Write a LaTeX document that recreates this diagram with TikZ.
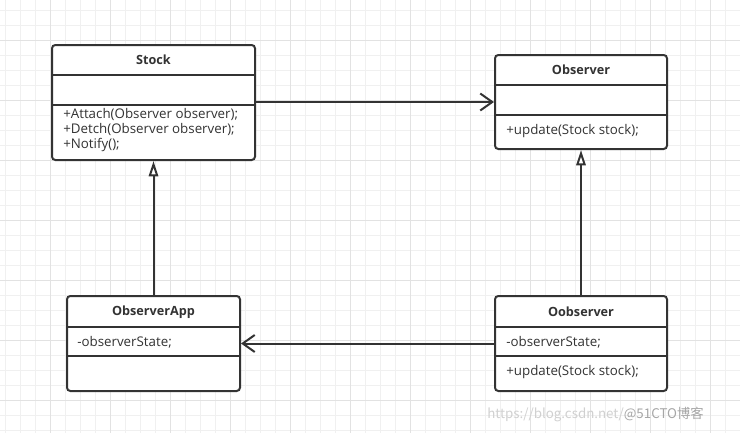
\documentclass[tikz,border=0pt]{standalone}
\usepackage{fontspec}
\setmainfont{Open Sans}
\newfontfamily\cjkfont{Noto Sans CJK SC}
\usetikzlibrary{arrows.meta}
\definecolor{ink}{HTML}{333333}
\definecolor{gridminor}{HTML}{F0F0F0}
\definecolor{gridmajor}{HTML}{E2E2E2}
\definecolor{wmark}{HTML}{D0D0D0}
\begin{document}
\begin{tikzpicture}[x=0.75pt,y=-0.75pt,
  classbox/.style={draw=ink,line width=1.5pt,rounded corners=2.5pt,fill=white,inner sep=0pt},
  divider/.style={draw=ink,line width=1.5pt},
  title/.style={font=\bfseries\fontsize{9.5}{11}\selectfont,text=ink,inner sep=0pt},
  member/.style={font=\fontsize{10}{11}\selectfont,text=ink,anchor=west,inner sep=0pt},
  assoc/.style={draw=ink,line width=1.5pt,-{Straight Barb[length=9pt,width=12.75pt]}},
  inherit/.style={draw=ink,line width=1.5pt,-{Triangle[length=11.5pt,width=7pt,fill=white]}}]
\useasboundingbox (0,0) rectangle (740,433);
\fill[white] (0,0) rectangle (740,433);
% grid
\foreach \gx in {5,20,...,740} \draw[gridminor,line width=0.75pt] (\gx,0) -- (\gx,433);
\foreach \gy in {10,25,...,433} \draw[gridminor,line width=0.75pt] (0,\gy) -- (740,\gy);
\foreach \gx in {50,110,...,740} \draw[gridmajor,line width=0.75pt] (\gx,0) -- (\gx,433);
\foreach \gy in {40,100,...,433} \draw[gridmajor,line width=0.75pt] (0,\gy) -- (740,\gy);

% class boxes
\node[classbox,minimum width=152.25pt,minimum height=86.25pt] (stock) at (153.5,102.5) {};
\node[classbox,minimum width=129pt,minimum height=70.5pt] (observer) at (581,102) {};
\node[classbox,minimum width=129.75pt,minimum height=71.25pt] (oapp) at (153.5,343.5) {};
\node[classbox,minimum width=129pt,minimum height=71.25pt] (oobs) at (581,343.5) {};

% dividers
\draw[divider] (stock.west |- 0,75) -- (stock.east |- 0,75);
\draw[divider] (stock.west |- 0,105) -- (stock.east |- 0,105);
\draw[divider] (observer.west |- 0,85) -- (observer.east |- 0,85);
\draw[divider] (observer.west |- 0,115) -- (observer.east |- 0,115);
\draw[divider] (oapp.west |- 0,327) -- (oapp.east |- 0,327);
\draw[divider] (oapp.west |- 0,356) -- (oapp.east |- 0,356);
\draw[divider] (oobs.west |- 0,327) -- (oobs.east |- 0,327);
\draw[divider] (oobs.west |- 0,356) -- (oobs.east |- 0,356);

% texts
\node[title] (stockT) at (153.5,60) {Stock};
\node[member] (stockM1) at (63,114) {+Attach(Observer observer);};
\node[member] (stockM2) at (63,129) {+Detch(Observer observer);};
\node[member] (stockM3) at (63,144.5) {+Notify();};

\node[title] (observerT) at (581,70) {Observer};
\node[member] (observerM1) at (506,131) {+update(Stock stock);};

\node[title] (oappT) at (153.5,312) {ObserverApp};
\node[member] (oappA1) at (77,342) {-observerState;};

\node[title] (oobsT) at (581,311.5) {Oobserver};
\node[member] (oobsA1) at (506,342) {-observerState;};
\node[member] (oobsM1) at (506,372) {+update(Stock stock);};

% connectors
\draw[assoc] (stock.east |- observer.west) -- (observer.west);
\draw[inherit] (oapp.north) -- (stock.south);
\draw[inherit] (oobs.north) -- (observer.south);
\draw[assoc] (oobs.west) -- (oapp.east);

% watermark
\node[anchor=west,inner sep=0pt,font=\cjkfont\fontsize{10}{12}\selectfont,text=wmark] (wm) at (487,414)
  {https://blog.csdn.net/\textcolor{gray!70}{@51CTO博客}};
\end{tikzpicture}
\end{document}
